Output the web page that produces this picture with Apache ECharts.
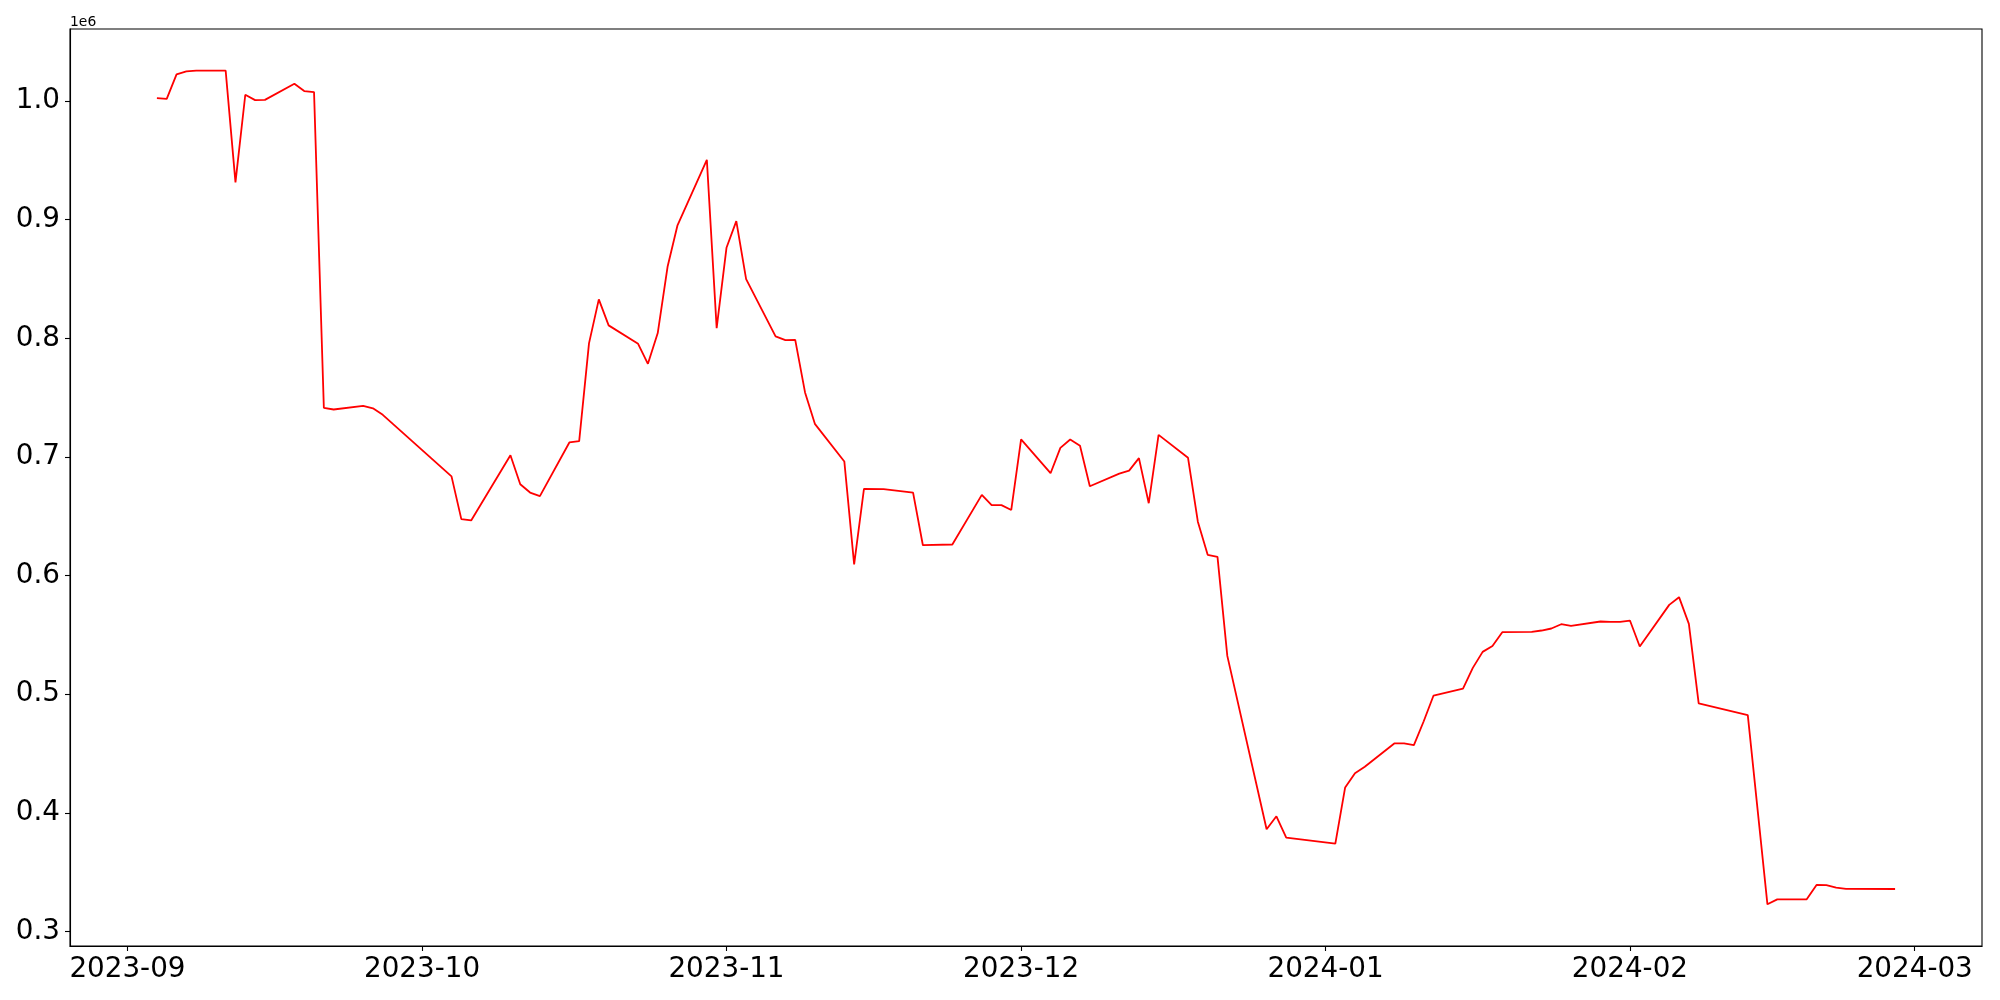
<!DOCTYPE html>
<html>
<head>
<meta charset="utf-8">
<script src="https://cdn.jsdelivr.net/npm/echarts@6/dist/echarts.min.js"></script>
<style>
html,body{margin:0;padding:0;background:#fff;}
#chart{width:2000px;height:1000px;}
</style>
</head>
<body>
<div id="chart"></div>
<script>
const dates = [
"2023-09-04","2023-09-05","2023-09-06","2023-09-07","2023-09-08","2023-09-11","2023-09-12","2023-09-13","2023-09-14","2023-09-15",
"2023-09-18","2023-09-19","2023-09-20","2023-09-21","2023-09-22","2023-09-25","2023-09-26","2023-09-27",
"2023-10-04","2023-10-05","2023-10-06","2023-10-10","2023-10-11","2023-10-12","2023-10-13",
"2023-10-16","2023-10-17","2023-10-18","2023-10-19","2023-10-20","2023-10-23","2023-10-24","2023-10-25","2023-10-26","2023-10-27",
"2023-10-30","2023-10-31","2023-11-01","2023-11-02","2023-11-03","2023-11-06","2023-11-07","2023-11-08","2023-11-09","2023-11-10",
"2023-11-13","2023-11-14","2023-11-15","2023-11-17","2023-11-20","2023-11-21","2023-11-24","2023-11-27","2023-11-28","2023-11-29","2023-11-30",
"2023-12-01","2023-12-04","2023-12-05","2023-12-06","2023-12-07","2023-12-08","2023-12-11","2023-12-12","2023-12-13","2023-12-14","2023-12-15",
"2023-12-18","2023-12-19","2023-12-20","2023-12-21","2023-12-22","2023-12-26","2023-12-27","2023-12-28",
"2024-01-02","2024-01-03","2024-01-04","2024-01-05","2024-01-08","2024-01-09","2024-01-10","2024-01-11","2024-01-12",
"2024-01-15","2024-01-16","2024-01-17","2024-01-18","2024-01-19","2024-01-22","2024-01-23","2024-01-24","2024-01-25","2024-01-26",
"2024-01-29","2024-01-30","2024-01-31","2024-02-01","2024-02-02","2024-02-05","2024-02-06","2024-02-07","2024-02-08",
"2024-02-13","2024-02-15","2024-02-16","2024-02-19","2024-02-20","2024-02-21","2024-02-22","2024-02-23","2024-02-28"
];
const values = [
1002500,1001900,1022500,1025000,1025600,1025600,931400,1005300,1000800,1001000,
1014600,1008400,1007600,741400,740000,743100,741000,735500,
683600,647600,646500,701500,677000,670000,667000,
712200,713300,795700,832800,810900,795400,778500,804400,860300,894900,
950500,808600,876300,898800,849900,801600,798500,798700,754400,727900,
696200,609400,673100,672800,670000,625600,626200,668000,659400,659400,655300,
714800,686300,707700,714700,709400,675300,686000,688500,699000,661000,718600,
699300,645400,617500,615800,532300,386200,397100,379200,
374100,421400,433400,438800,458500,458500,457100,477200,498900,
504800,522200,535700,540700,552300,552500,553700,555400,559000,557600,
561300,561000,561000,562100,540200,575300,581800,559300,492200,
482300,322900,327100,327100,339200,339000,337000,335900,335800
];
const yTicks = [300000,400000,500000,600000,700000,800000,900000,1000000];
const xTicks = ["2023-09-01","2023-10-01","2023-11-01","2023-12-01","2024-01-01","2024-02-01","2024-03-01"];
const yOffsetLabel = "1e6";

const toTs = s => { const [y,m,d] = s.split('-').map(Number); return Date.UTC(y, m-1, d); };
const seriesData = dates.map((d,i) => [toTs(d), values[i]]);
const tFirst = toTs(dates[0]), tLast = toTs(dates[dates.length-1]);
const xPad = (tLast - tFirst) * 0.05;
const vMin = Math.min(...values), vMax = Math.max(...values);
const yPad = (vMax - vMin) * 0.05;
const xTickTs = xTicks.map(toTs);
const pad2 = n => (n < 10 ? '0' : '') + n;

const FONT = "DejaVu Sans";
const chart = echarts.init(document.getElementById('chart'), null, {renderer: 'canvas'});
chart.setOption({
  animation: false,
  backgroundColor: '#fff',
  grid: {left: 70, right: 18, top: 29, bottom: 54, show: true, borderColor: '#000', borderWidth: 1.1, backgroundColor: 'transparent'},
  xAxis: {
    type: 'value',
    min: tFirst - xPad,
    max: tLast + xPad,
    scale: true,
    splitLine: {show: false},
    axisLine: {show: true, lineStyle: {color: '#000', width: 1.1}},
    axisTick: {show: true, inside: false, length: 5, lineStyle: {color: '#000', width: 1.1}, customValues: xTickTs},
    axisLabel: {
      show: true, margin: 10, color: '#000', fontFamily: FONT, fontSize: 27.8,
      customValues: xTickTs,
      formatter: v => { const d = new Date(v); return d.getUTCFullYear() + '-' + pad2(d.getUTCMonth()+1); }
    }
  },
  yAxis: {
    type: 'value',
    min: vMin - yPad,
    max: vMax + yPad,
    scale: true,
    name: yOffsetLabel,
    nameLocation: 'end',
    nameGap: 0,
    nameTextStyle: {fontFamily: FONT, fontSize: 13.9, color: '#000', align: 'left', verticalAlign: 'bottom'},
    splitLine: {show: false},
    axisLine: {show: true, lineStyle: {color: '#000', width: 1.1}},
    axisTick: {show: true, inside: false, length: 5, lineStyle: {color: '#000', width: 1.1}, customValues: yTicks},
    axisLabel: {
      show: true, margin: 10, color: '#000', fontFamily: FONT, fontSize: 27.8,
      customValues: yTicks,
      formatter: v => (v / 1e6).toFixed(1)
    }
  },
  series: [{
    type: 'line',
    data: seriesData,
    showSymbol: false,
    symbol: 'none',
    lineStyle: {color: '#ff0000', width: 1.8},
    itemStyle: {color: '#ff0000'},
    silent: true
  }]
});
</script>
</body>
</html>
